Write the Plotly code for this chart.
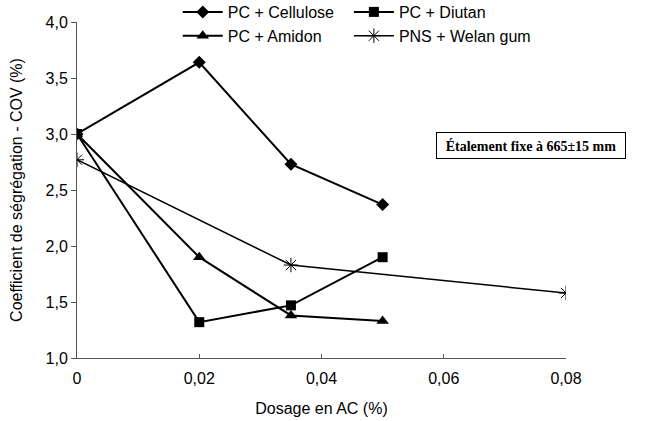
import plotly.graph_objects as go

x_cell = [0, 0.02, 0.035, 0.05]
y_cell = [3.0, 3.64, 2.73, 2.37]
x_diut = [0, 0.02, 0.035, 0.05]
y_diut = [3.0, 1.32, 1.47, 1.90]
x_amid = [0, 0.02, 0.035, 0.05]
y_amid = [3.0, 1.90, 1.38, 1.33]
x_welan = [0, 0.035, 0.08]
y_welan = [2.77, 1.83, 1.58]

x_ticks = [0, 0.02, 0.04, 0.06, 0.08]
x_ticktext = ["0", "0,02", "0,04", "0,06", "0,08"]
y_ticks = [1.0, 1.5, 2.0, 2.5, 3.0, 3.5, 4.0]
y_ticktext = ["1,0", "1,5", "2,0", "2,5", "3,0", "3,5", "4,0"]

font = "Liberation Sans, Arial, sans-serif"
line = dict(color="black", width=2)

W, H = 647, 421
ML, MR, MB = 77, 81, 63
PLOT_TOP = 22
paper_h = H - MB
ydom_top = (paper_h - PLOT_TOP) / paper_h

fig = go.Figure()
fig.add_trace(go.Scatter(x=x_cell, y=y_cell, name="PC + Cellulose", mode="lines+markers",
                         line=line, marker=dict(symbol="diamond", size=10, color="black"),
                         legend="legend"))
fig.add_trace(go.Scatter(x=x_amid, y=y_amid, name="PC + Amidon", mode="lines+markers",
                         line=line, marker=dict(symbol="triangle-up", size=11, color="black"),
                         legend="legend"))
fig.add_trace(go.Scatter(x=x_diut, y=y_diut, name="PC + Diutan", mode="lines+markers",
                         line=line, marker=dict(symbol="square", size=10, color="black"),
                         legend="legend2"))
fig.add_trace(go.Scatter(x=x_welan, y=y_welan, name="PNS + Welan gum", mode="lines+markers",
                         line=dict(color="black", width=1.5),
                         marker=dict(symbol="asterisk-open", size=12, color="black",
                                     line=dict(color="black", width=1)),
                         legend="legend2"))

leg_common = dict(font=dict(family=font, size=16, color="black"), bgcolor="rgba(0,0,0,0)",
                  y=1.0 + 5 / paper_h, yanchor="top", xanchor="left",
                  tracegroupgap=0, itemwidth=40)

fig.update_layout(
    width=W, height=H,
    margin=dict(l=ML, r=MR, t=0, b=MB, autoexpand=False),
    paper_bgcolor="white", plot_bgcolor="white",
    font=dict(family=font, size=16, color="black"),
    legend=dict(x=0.206, **leg_common),
    legend2=dict(x=0.556, **leg_common),
    xaxis=dict(range=[0, 0.08], tickvals=x_ticks, ticktext=x_ticktext,
               showgrid=False, zeroline=False, showline=True, linecolor="#555", linewidth=1,
               ticks="inside", ticklen=4, tickcolor="#555",
               tickfont=dict(size=16), ticklabelstandoff=6, automargin=False,
               title=dict(text="Dosage en AC (%)", font=dict(size=16), standoff=16)),
    yaxis=dict(range=[1.0, 4.0], domain=[0, ydom_top], tickvals=y_ticks, ticktext=y_ticktext,
               showgrid=False, zeroline=False, showline=True, linecolor="#555", linewidth=1,
               ticks="outside", ticklen=5, tickcolor="#555",
               tickfont=dict(size=16), automargin=False,
               title=dict(text="Coefficient de ségrégation - COV (%)", font=dict(size=16), standoff=18)),
    annotations=[dict(
        xref="paper", yref="paper", x=0.928, y=(paper_h - 145) / paper_h,
        xanchor="center", yanchor="middle",
        text="<b>Étalement fixe à 665±15 mm</b>", showarrow=False,
        font=dict(family="Liberation Serif, Times New Roman, serif", size=14, color="black"),
        bordercolor="black", borderwidth=1, borderpad=5, bgcolor="white",
        width=178, height=15)],
)

fig.write_html("out.html")
